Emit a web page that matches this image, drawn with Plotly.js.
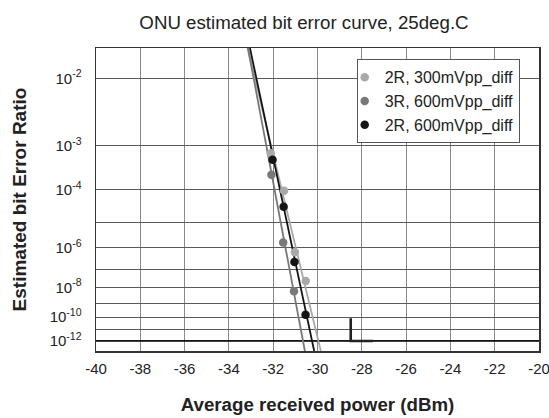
<!DOCTYPE html>
<html>
<head>
<meta charset="utf-8">
<script src="https://cdn.plot.ly/plotly-3.0.1.min.js"></script>
<style>html,body{margin:0;padding:0;background:#fff;overflow:hidden;}#chart{width:549px;height:418px;}</style>
</head>
<body>
<div id="chart"></div>
<script>
// ---- data ----
var seriesNames = ['2R, 300mVpp_diff', '3R, 600mVpp_diff', '2R, 600mVpp_diff'];

var light_x   = [-32.11, -31.51, -31.02, -30.53];
var light_ber = [7.1e-4, 9.3e-5, 6.5e-7, 2.3e-8];
var dark_x    = [-32.08, -31.55, -31.06];
var dark_ber  = [2.4e-4, 1.7e-6, 5.8e-9];
var black_x   = [-32.03, -31.53, -31.04, -30.54];
var black_ber = [5.2e-4, 3.2e-5, 2.3e-7, 1.5e-10];

// fitted lines (x at plot top / bottom)
var fitBER      = [2.03e-2, 1.08e-13];
var light_fit_x = [-33.16, -29.85];
var dark_fit_x  = [-33.14, -30.57];
var black_fit_x = [-33.05, -30.15];

// sensitivity corner mark
var mark_x   = [-28.5, -28.5, -27.5];
var mark_ber = [8e-11, 1e-12, 1e-12];

// reference BER line
var refLineX   = [-40, -20];
var refLineBER = [1e-12, 1e-12];

// axes
var xRange      = [-40, -20];
var xTickVals   = [-40, -38, -36, -34, -32, -30, -28, -26, -24, -22, -20];
var xTickText   = ['-40', '-38', '-36', '-34', '-32', '-30', '-28', '-26', '-24', '-22', '-20'];
var yTickBER    = [1e-2, 1e-3, 1e-4, 1e-5, 1e-6, 1e-7, 1e-8, 1e-9, 1e-10, 1e-11, 1e-12];
var yTickText   = ['10<sup>-2</sup>', '10<sup>-3</sup>', '10<sup>-4</sup>', '', '10<sup>-6</sup>', '',
                   '10<sup>-8</sup>', '', '10<sup>-10</sup>', '', '10<sup>-12</sup>'];
var yRangeBER   = [2.03e-2, 1.08e-13];

// ---- BER -> Q transform (the chart's y scale) ----
function erfc(x) {
  var z = Math.abs(x), t = 1 / (1 + 0.5 * z);
  var ans = t * Math.exp(-z * z - 1.26551223 + t * (1.00002368 + t * (0.37409196 + t * (0.09678418 +
    t * (-0.18628806 + t * (0.27886807 + t * (-1.13520398 + t * (1.48851587 +
    t * (-0.82215223 + t * 0.17087277)))))))));
  return x >= 0 ? ans : 2 - ans;
}
function Q(ber) {
  var lo = 0, hi = 12, target = Math.log(ber);
  for (var i = 0; i < 100; i++) {
    var mid = (lo + hi) / 2;
    var v = Math.log(0.5 * erfc(mid / Math.SQRT2));
    if (v > target) lo = mid; else hi = mid;
  }
  return (lo + hi) / 2;
}
function toQ(arr) { return arr.map(Q); }

var FONT = 'Liberation Sans, Arial, Helvetica, sans-serif';
var cLight = '#a9a9a9', cDark = '#787878', cBlack = '#151515';

var traces = [
  {x: refLineX, y: toQ(refLineBER), mode: 'lines', line: {color: '#000', width: 1.4}, showlegend: false, hoverinfo: 'skip'},
  {x: mark_x, y: toQ(mark_ber), mode: 'lines', line: {color: '#222', width: 2.6}, showlegend: false, hoverinfo: 'skip'},
  {x: light_fit_x, y: toQ(fitBER), mode: 'lines', line: {color: cLight, width: 1.8}, showlegend: false, hoverinfo: 'skip'},
  {x: dark_fit_x, y: toQ(fitBER), mode: 'lines', line: {color: cDark, width: 1.8}, showlegend: false, hoverinfo: 'skip'},
  {x: black_fit_x, y: toQ(fitBER), mode: 'lines', line: {color: cBlack, width: 1.8}, showlegend: false, hoverinfo: 'skip'},
  {x: light_x, y: toQ(light_ber), name: seriesNames[0], mode: 'markers', marker: {color: cLight, size: 8.5}},
  {x: dark_x, y: toQ(dark_ber), name: seriesNames[1], mode: 'markers', marker: {color: cDark, size: 8.5}},
  {x: black_x, y: toQ(black_ber), name: seriesNames[2], mode: 'markers', marker: {color: cBlack, size: 8.5}}
];

var layout = {
  width: 549, height: 418,
  margin: {l: 96, r: 10, t: 48, b: 67},
  paper_bgcolor: '#fff', plot_bgcolor: '#fff',
  font: {family: FONT, color: '#222', size: 15},
  title: {text: 'ONU estimated bit error curve, 25deg.C', font: {size: 18.7, color: '#222'},
          x: 0.5537, xanchor: 'center', xref: 'container', y: 0.946, yanchor: 'middle', yref: 'container'},
  xaxis: {
    range: xRange, tickmode: 'array', tickvals: xTickVals, ticktext: xTickText,
    showgrid: true, gridcolor: '#8a8a8a', gridwidth: 1, zeroline: false,
    showline: true, mirror: true, linecolor: '#333', linewidth: 1.5,
    ticks: '', ticklabelstandoff: 3, ticklabeloverflow: 'allow', tickfont: {size: 15},
    title: {text: 'Average received power (dBm)', font: {size: 18.7, weight: 'bold', color: '#222'}, standoff: 22}
  },
  yaxis: {
    type: 'log', range: [Math.log10(Q(yRangeBER[1])), Math.log10(Q(yRangeBER[0]))],
    tickmode: 'array', tickvals: toQ(yTickBER), ticktext: yTickText,
    showgrid: true, gridcolor: '#5a5a5a', gridwidth: 1, zeroline: false,
    showline: true, mirror: true, linecolor: '#333', linewidth: 1.5,
    ticks: '', ticklabelstandoff: 10, ticklabeloverflow: 'allow', tickfont: {size: 15},
    title: {text: 'Estimated bit Error Ratio', font: {size: 19, weight: 'bold', color: '#222'}, standoff: 18}
  },
  legend: {x: 0.5885, y: 0.9627, xanchor: 'left', yanchor: 'top', bgcolor: '#fff',
           bordercolor: '#555', borderwidth: 1, font: {size: 16, color: '#222'},
           itemwidth: 30, tracegroupgap: 0, indentation: -13},
  showlegend: true
};

Plotly.newPlot('chart', traces, layout, {displayModeBar: false, staticPlot: true});
</script>
</body>
</html>
